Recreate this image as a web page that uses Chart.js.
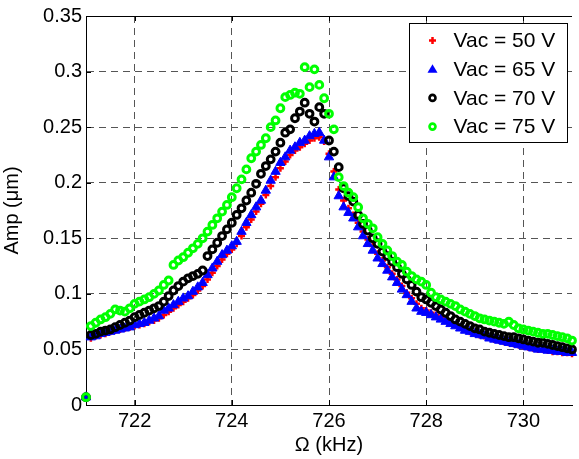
<!DOCTYPE html>
<html>
<head>
<meta charset="utf-8">
<script src="https://cdn.jsdelivr.net/npm/chart.js@4.4.1/dist/chart.umd.min.js"></script>
<style>
  html, body { margin: 0; padding: 0; background: #fff; }
  #wrap { position: relative; width: 579px; height: 459px; }
</style>
</head>
<body>
<div id="wrap"><canvas id="ampChart" width="579" height="459"></canvas></div>
<script>
// drive frequency (kHz)
const freqs = [
    721.0, 721.1, 721.2, 721.3, 721.4, 721.5, 721.6, 721.7, 721.8, 721.9,
    722.0, 722.1, 722.2, 722.3, 722.4, 722.5, 722.6, 722.7, 722.8, 722.9,
    723.0, 723.1, 723.2, 723.3, 723.4, 723.5, 723.6, 723.7, 723.8, 723.9,
    724.0, 724.1, 724.2, 724.3, 724.4, 724.5, 724.6, 724.7, 724.8, 724.9,
    725.0, 725.1, 725.2, 725.3, 725.4, 725.5, 725.6, 725.7, 725.8, 725.9,
    726.0, 726.1, 726.2, 726.3, 726.4, 726.5, 726.6, 726.7, 726.8, 726.9,
    727.0, 727.1, 727.2, 727.3, 727.4, 727.5, 727.6, 727.7, 727.8, 727.9,
    728.0, 728.1, 728.2, 728.3, 728.4, 728.5, 728.6, 728.7, 728.8, 728.9,
    729.0, 729.1, 729.2, 729.3, 729.4, 729.5, 729.6, 729.7, 729.8, 729.9,
    730.0, 730.1, 730.2, 730.3, 730.4, 730.5, 730.6, 730.7, 730.8, 730.9,
    731.0
];

// amplitude (um) for each drive voltage
const vac50 = [
    0.007,
    0.060, 0.062, 0.063, 0.064, 0.066, 0.067, 0.068, 0.069, 0.070, 0.071,
    0.072, 0.073, 0.075, 0.076, 0.078, 0.081, 0.084, 0.087, 0.090, 0.093,
    0.096, 0.099, 0.103, 0.107, 0.113, 0.119, 0.125, 0.131, 0.136, 0.140,
    0.145, 0.152, 0.160, 0.167, 0.174, 0.181, 0.189, 0.197, 0.205, 0.213,
    0.219, 0.225, 0.229, 0.232, 0.235, 0.238, 0.240, 0.241, 0.237, 0.226,
    0.210, 0.194, 0.184, 0.177, 0.171, 0.164, 0.156, 0.149, 0.143, 0.136,
    0.130, 0.124, 0.118, 0.113, 0.107, 0.101, 0.096, 0.091, 0.087, 0.085,
    0.083, 0.081, 0.079, 0.076, 0.074, 0.072, 0.070, 0.068, 0.066, 0.065,
    0.063, 0.062, 0.061, 0.059, 0.058, 0.057, 0.056, 0.055, 0.054, 0.053,
    0.052, 0.051, 0.050, 0.050, 0.049, 0.048, 0.048, 0.047, 0.047, 0.046
];
const vac65 = [
    0.007,
    0.061, 0.062, 0.064, 0.065, 0.066, 0.067, 0.068, 0.069, 0.070, 0.072,
    0.073, 0.074, 0.076, 0.078, 0.080, 0.085, 0.087, 0.090, 0.093, 0.096,
    0.098, 0.102, 0.106, 0.110, 0.117, 0.123, 0.129, 0.135, 0.139, 0.143,
    0.147, 0.156, 0.164, 0.171, 0.178, 0.184, 0.193, 0.202, 0.210, 0.218,
    0.223, 0.229, 0.232, 0.236, 0.238, 0.242, 0.244, 0.245, 0.238, 0.223,
    0.205, 0.188, 0.178, 0.173, 0.168, 0.160, 0.152, 0.145, 0.139, 0.132,
    0.127, 0.121, 0.115, 0.110, 0.104, 0.099, 0.093, 0.087, 0.084, 0.083,
    0.081, 0.079, 0.077, 0.075, 0.073, 0.071, 0.069, 0.067, 0.066, 0.064,
    0.063, 0.062, 0.060, 0.059, 0.058, 0.057, 0.056, 0.055, 0.054, 0.053,
    0.052, 0.051, 0.050, 0.050, 0.049, 0.049, 0.048, 0.048, 0.047, 0.047
];
const vac70 = [
    0.007,
    0.063, 0.064, 0.066, 0.067, 0.068, 0.070, 0.072, 0.074, 0.076, 0.079,
    0.081, 0.083, 0.085, 0.087, 0.089, 0.093, 0.098, 0.103, 0.107, 0.111,
    0.114, 0.116, 0.118, 0.121, 0.134, 0.140, 0.146, 0.152, 0.158, 0.164,
    0.171, 0.177, 0.184, 0.191, 0.199, 0.208, 0.215, 0.221, 0.228, 0.236,
    0.245, 0.248, 0.258, 0.264, 0.272, 0.262, 0.255, 0.268, 0.262, 0.238,
    0.228, 0.214, 0.195, 0.188, 0.183, 0.171, 0.163, 0.157, 0.150, 0.145,
    0.138, 0.134, 0.129, 0.124, 0.118, 0.113, 0.108, 0.102, 0.097, 0.095,
    0.092, 0.089, 0.086, 0.083, 0.080, 0.077, 0.075, 0.073, 0.071, 0.069,
    0.068, 0.066, 0.065, 0.064, 0.063, 0.062, 0.061, 0.061, 0.060, 0.059,
    0.058, 0.057, 0.056, 0.056, 0.055, 0.054, 0.053, 0.052, 0.051, 0.050
];
const vac75 = [
    0.007,
    0.071, 0.074, 0.077, 0.079, 0.082, 0.086, 0.085, 0.084, 0.087, 0.091,
    0.093, 0.095, 0.097, 0.100, 0.103, 0.108, 0.112, 0.126, 0.130, 0.133,
    0.137, 0.141, 0.145, 0.150, 0.156, 0.162, 0.168, 0.174, 0.180, 0.187,
    0.195, 0.203, 0.212, 0.222, 0.228, 0.234, 0.240, 0.250, 0.256, 0.267,
    0.277, 0.279, 0.281, 0.280, 0.304, 0.286, 0.302, 0.288, 0.276, 0.262,
    0.248, 0.205, 0.197, 0.191, 0.187, 0.178, 0.168, 0.163, 0.159, 0.151,
    0.145, 0.139, 0.134, 0.129, 0.126, 0.120, 0.116, 0.113, 0.111, 0.108,
    0.101, 0.097, 0.095, 0.093, 0.091, 0.089, 0.086, 0.084, 0.082, 0.080,
    0.078, 0.077, 0.076, 0.075, 0.074, 0.073, 0.075, 0.072, 0.069, 0.068,
    0.067, 0.066, 0.065, 0.064, 0.064, 0.063, 0.062, 0.061, 0.060, 0.058
];

const seriesNames = ['Vac = 50 V', 'Vac = 65 V', 'Vac = 70 V', 'Vac = 75 V'];
const xTicks = [722, 724, 726, 728, 730];
const yTicks = [0, 0.05, 0.1, 0.15, 0.2, 0.25, 0.3, 0.35];
const yTickLabels = ['0', '0.05', '0.1', '0.15', '0.2', '0.25', '0.3', '0.35'];

const FONT = "'Liberation Sans', Arial, Helvetica, sans-serif";

function toPoints(vals) {
    return freqs.map((f, i) => ({ x: f, y: vals[i] }));
}

// little marker painter used by the in-plot legend
function drawMarker(ctx, kind, x, y) {
    ctx.save();
    if (kind === 'cross') {
        ctx.strokeStyle = '#ff0000';
        ctx.lineWidth = 2.5;
        ctx.beginPath();
        ctx.moveTo(x - 3.5, y); ctx.lineTo(x + 3.5, y);
        ctx.moveTo(x, y - 3.5); ctx.lineTo(x, y + 3.5);
        ctx.stroke();
    } else if (kind === 'triangle') {
        ctx.fillStyle = '#0000ff';
        ctx.beginPath();
        ctx.moveTo(x, y - 5);
        ctx.lineTo(x + 5, y + 3.5);
        ctx.lineTo(x - 5, y + 3.5);
        ctx.closePath();
        ctx.fill();
    } else {
        ctx.strokeStyle = kind;
        ctx.lineWidth = 2.6;
        ctx.beginPath();
        ctx.arc(x, y, 3, 0, Math.PI * 2);
        ctx.stroke();
    }
    ctx.restore();
}

const framePlugin = {
    id: 'frame',
    afterDraw(chart) {
        const ctx = chart.ctx;
        const a = chart.chartArea;
        const xs = chart.scales.x;
        const ys = chart.scales.y;
        ctx.save();
        ctx.strokeStyle = '#000';
        ctx.lineWidth = 1;
        ctx.setLineDash([]);
        ctx.beginPath();
        ctx.moveTo(a.left, a.top + 0.5);
        ctx.lineTo(a.right, a.top + 0.5);
        // inward tick marks
        xTicks.forEach(v => {
            const px = Math.round(xs.getPixelForValue(v)) + 0.5;
            ctx.moveTo(px, a.bottom); ctx.lineTo(px, a.bottom - 5);
            ctx.moveTo(px, a.top); ctx.lineTo(px, a.top + 5);
        });
        yTicks.forEach(v => {
            const py = Math.round(ys.getPixelForValue(v)) + 0.5;
            ctx.moveTo(a.left, py); ctx.lineTo(a.left + 5, py);
        });
        ctx.stroke();

        // legend box in the upper right corner
        const boxW = 158, boxH = 119;
        const bx = Math.round(a.right - 5 - boxW) + 0.5;
        const by = Math.round(a.top + 7) + 0.5;
        ctx.fillStyle = '#fff';
        ctx.fillRect(bx, by, boxW, boxH);
        ctx.strokeRect(bx, by, boxW, boxH);
        const kinds = ['cross', 'triangle', '#000000', '#00ff00'];
        ctx.font = '21px ' + FONT;
        ctx.fillStyle = '#000';
        ctx.textBaseline = 'middle';
        ctx.textAlign = 'left';
        seriesNames.forEach((name, i) => {
            const ry = by + 17 + i * 28.7;
            drawMarker(ctx, kinds[i], bx + 23, ry);
            ctx.fillText(name, bx + 44, ry + 1);
        });
        ctx.restore();
    }
};

const ampCtx = document.getElementById('ampChart');
const ampChart = new Chart(ampCtx, {
    type: 'scatter',
    data: {
        datasets: [{
            label: seriesNames[0],
            data: toPoints(vac50),
            pointStyle: 'cross',
            pointRadius: 3.5,
            borderWidth: 2.5,
            borderColor: '#ff0000',
            backgroundColor: '#ff0000',
            order: 4,
            clip: false
        }, {
            label: seriesNames[1],
            data: toPoints(vac65),
            pointStyle: 'triangle',
            pointRadius: 5.4,
            borderWidth: 1,
            borderColor: '#0000ff',
            backgroundColor: '#0000ff',
            order: 3,
            clip: false
        }, {
            label: seriesNames[2],
            data: toPoints(vac70),
            pointStyle: 'circle',
            pointRadius: 3.4,
            borderWidth: 3,
            borderColor: '#000000',
            backgroundColor: 'rgba(0,0,0,0)',
            order: 2,
            clip: false
        }, {
            label: seriesNames[3],
            data: toPoints(vac75),
            pointStyle: 'circle',
            pointRadius: 3.4,
            borderWidth: 3,
            borderColor: '#00ff00',
            backgroundColor: 'rgba(0,0,0,0)',
            order: 1,
            clip: false
        }]
    },
    options: {
        responsive: false,
        animation: false,
        devicePixelRatio: 1,
        layout: { padding: { top: 16, right: 0, bottom: 0, left: 0 } },
        plugins: {
            legend: { display: false },
            tooltip: { enabled: false }
        },
        scales: {
            x: {
                type: 'linear',
                min: 721,
                max: 731,
                afterBuildTicks: scale => { scale.ticks = xTicks.map(v => ({ value: v })); },
                afterFit: scale => { scale.height = 54; },
                grid: { color: '#555', drawTicks: false },
                border: { display: true, color: '#000', width: 1, dash: [7, 5] },
                ticks: {
                    color: '#000',
                    padding: 4,
                    maxRotation: 0,
                    font: { family: FONT, size: 20 },
                    callback: v => String(v)
                },
                title: {
                    display: true,
                    text: 'Ω (kHz)',
                    color: '#000',
                    padding: { top: 0, bottom: 2 },
                    font: { family: FONT, size: 20 }
                }
            },
            y: {
                type: 'linear',
                min: 0,
                max: 0.35,
                afterBuildTicks: scale => { scale.ticks = yTicks.map(v => ({ value: v })); },
                afterFit: scale => { scale.width = 86; },
                grid: {
                    drawTicks: false,
                    color: c => (c.tick && (c.tick.value === 0 || c.tick.value === 0.35)) ? 'rgba(0,0,0,0)' : '#555'
                },
                border: { display: true, color: '#000', width: 1, dash: [7, 5] },
                ticks: {
                    color: '#000',
                    padding: 4,
                    font: { family: FONT, size: 20 },
                    callback: v => yTickLabels[yTicks.indexOf(v)] ?? String(v)
                },
                title: {
                    display: true,
                    text: 'Amp (μm)',
                    color: '#000',
                    padding: { top: 0, bottom: 8 },
                    font: { family: FONT, size: 20 }
                }
            }
        }
    },
    plugins: [framePlugin]
});
</script>
</body>
</html>
